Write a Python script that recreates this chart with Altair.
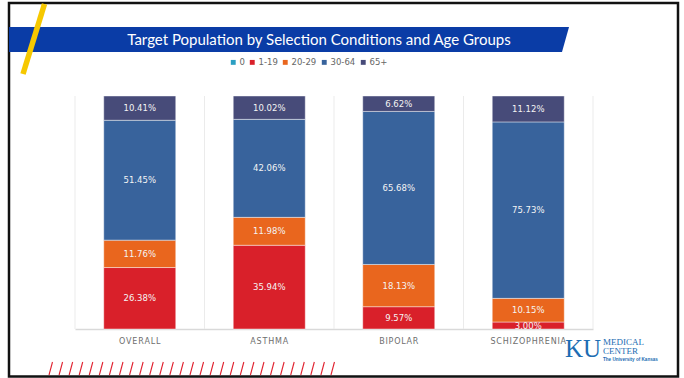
import altair as alt
import pandas as pd

# ---------------- data ----------------
categories = ["OVERALL", "ASTHMA", "BIPOLAR", "SCHIZOPHRENIA"]
age_groups = ["0", "1-19", "20-29", "30-64", "65+"]
pct_0 = [0.0, 0.0, 0.0, 0.0]
pct_1_19 = [26.38, 35.94, 9.57, 3.00]
pct_20_29 = [11.76, 11.98, 18.13, 10.15]
pct_30_64 = [51.45, 42.06, 65.68, 75.73]
pct_65 = [10.41, 10.02, 6.62, 11.12]
group_colors = ["#2b9fc2", "#d9202a", "#e9661e", "#38639c", "#474b79"]

title_text = "Target Population by Selection Conditions and Age Groups"

series = [pct_0, pct_1_19, pct_20_29, pct_30_64, pct_65]
rows = []
for gi, (g, vals) in enumerate(zip(age_groups, series)):
    for c, v in zip(categories, vals):
        if v > 0:
            rows.append({"cat": c, "grp": g, "ord": gi, "value": v})
df = pd.DataFrame(rows)
cat_df = pd.DataFrame({"cat": categories})

# ---------------- layout (pixels) ----------------
OX, OY = 75, 96          # plot-area origin
W, H = 518, 233          # plot-area size

def px(x):
    return x - OX

def py(y):
    return y - OY

one = pd.DataFrame({"k": [0]})

xscale = alt.Scale(type="band", domain=categories, paddingInner=0, paddingOuter=0)
yscale = alt.Scale(domain=[0, 100])

x_axis = alt.Axis(domain=True, domainColor="#d9d9d9", domainWidth=1.5, ticks=False,
                  grid=False, labelAngle=0, labelFont="DejaVu Sans", labelFontSize=8,
                  labelColor="#6e6e6e", labelPadding=8,
                  labelExpr="join(split(datum.label, ''), '\u200a')")

# slide frame
frame = alt.Chart(one).mark_rect(fillOpacity=0, stroke="#111111", strokeWidth=2.5).encode(
    x=alt.value(px(9)), x2=alt.value(px(678)), y=alt.value(py(3)), y2=alt.value(py(376.5))
)

# title banner (trapezoid)
banner_df = pd.DataFrame({
    "bx": [px(9), px(562), px(569)],
    "by": [py(27), py(27), py(27)],
    "by2": [py(52), py(52), py(27)],
})
banner = alt.Chart(banner_df).mark_area(color="#0a3ca6", interpolate="linear").encode(
    x=alt.X("bx:Q", scale=None), y=alt.Y("by:Q", scale=None), y2="by2:Q"
)

yellow = alt.Chart(one).mark_rule(color="#f6c800", strokeWidth=5.5, strokeCap="butt").encode(
    x=alt.value(px(44.5)), y=alt.value(py(4)), x2=alt.value(px(23)), y2=alt.value(py(74))
)

title = alt.Chart(one).mark_text(
    text=title_text, color="white", fontSize=15, font="Lato", align="center", baseline="middle"
).encode(x=alt.value(px(319)), y=alt.value(py(40)))

# vertical separators between groups
grid = alt.Chart(cat_df).mark_rule(color="#ebebeb", strokeWidth=1).encode(
    x=alt.X("cat:N", sort=categories, scale=xscale, bandPosition=0, title=None, axis=x_axis),
    y=alt.value(0), y2=alt.value(H)
)
grid_end = alt.Chart(one).mark_rule(color="#ebebeb", strokeWidth=1).encode(
    x=alt.value(W), y=alt.value(0), y2=alt.value(H)
)

bars = alt.Chart(df).mark_bar(
    width=alt.RelativeBandSize(0.556), stroke="white", strokeWidth=0.8, strokeOpacity=0.55
).encode(
    x=alt.X("cat:N", sort=categories, scale=xscale, title=None, axis=x_axis),
    y=alt.Y("value:Q", stack="zero", scale=yscale, axis=None),
    color=alt.Color("grp:N", scale=alt.Scale(domain=age_groups, range=group_colors),
                    legend=alt.Legend(orient="none", legendX=px(229), legendY=py(58),
                                      direction="horizontal", title=None, symbolType="square",
                                      symbolSize=24, symbolStrokeWidth=0, labelFontSize=8.5,
                                      labelFont="DejaVu Sans", labelColor="#666666",
                                      columnPadding=3, labelOffset=2, padding=0)),
    order=alt.Order("ord:Q", sort="ascending"),
)

labels = alt.Chart(df).transform_stack(
    stack="value", groupby=["cat"], as_=["v0", "v1"], sort=[alt.SortField("ord", order="ascending")]
).transform_calculate(
    mid="(datum.v0 + datum.v1) / 2",
    lbl="format(datum.value, '.2f') + '%'"
).mark_text(color="#f4f4f4", fontSize=8.5, font="DejaVu Sans", baseline="middle").encode(
    x=alt.X("cat:N", sort=categories, scale=xscale, title=None, axis=x_axis),
    y=alt.Y("mid:Q", scale=yscale, axis=None),
    text="lbl:N",
)

# decorative red slashes at the bottom
sl_x = [49 + 10.07 * i for i in range(29)]
slash_df = pd.DataFrame({"sx": [px(v) for v in sl_x], "sx2": [px(v + 3.5) for v in sl_x]})
slashes = alt.Chart(slash_df).mark_rule(color="#e0202e", strokeWidth=1.1).encode(
    x=alt.X("sx:Q", scale=None), x2="sx2:Q", y=alt.value(py(375)), y2=alt.value(py(362))
)

logo_color = "#1d6db3"
ku = alt.Chart(one).mark_text(text="KU", font="Liberation Serif", fontSize=25, color=logo_color,
                              align="left", baseline="alphabetic").encode(
    x=alt.value(px(565)), y=alt.value(py(357)))
medical = alt.Chart(one).mark_text(text="MEDICAL", font="Liberation Serif", fontSize=9,
                                   color=logo_color, align="left", baseline="alphabetic").encode(
    x=alt.value(px(603)), y=alt.value(py(345)))
center = alt.Chart(one).mark_text(text="CENTER", font="Liberation Serif", fontSize=9,
                                  color=logo_color, align="left", baseline="alphabetic").encode(
    x=alt.value(px(603)), y=alt.value(py(354)))
univ = alt.Chart(one).mark_text(text="The University of Kansas", font="Liberation Sans",
                                fontSize=4.6, fontWeight="bold", color=logo_color,
                                align="left", baseline="alphabetic").encode(
    x=alt.value(px(603)), y=alt.value(py(361)))

chart = alt.layer(
    frame, banner, yellow, title, grid, grid_end, bars, labels, slashes, ku, medical, center, univ
).properties(
    width=W, height=H,
    padding={"left": OX, "top": OY, "right": 684 - OX - W, "bottom": 378 - OY - H},
    autosize=alt.AutoSizeParams(type="none"),
    background="white",
).configure_view(stroke="transparent")

chart.save("out.html", embed_options={"renderer": "svg", "actions": False})
